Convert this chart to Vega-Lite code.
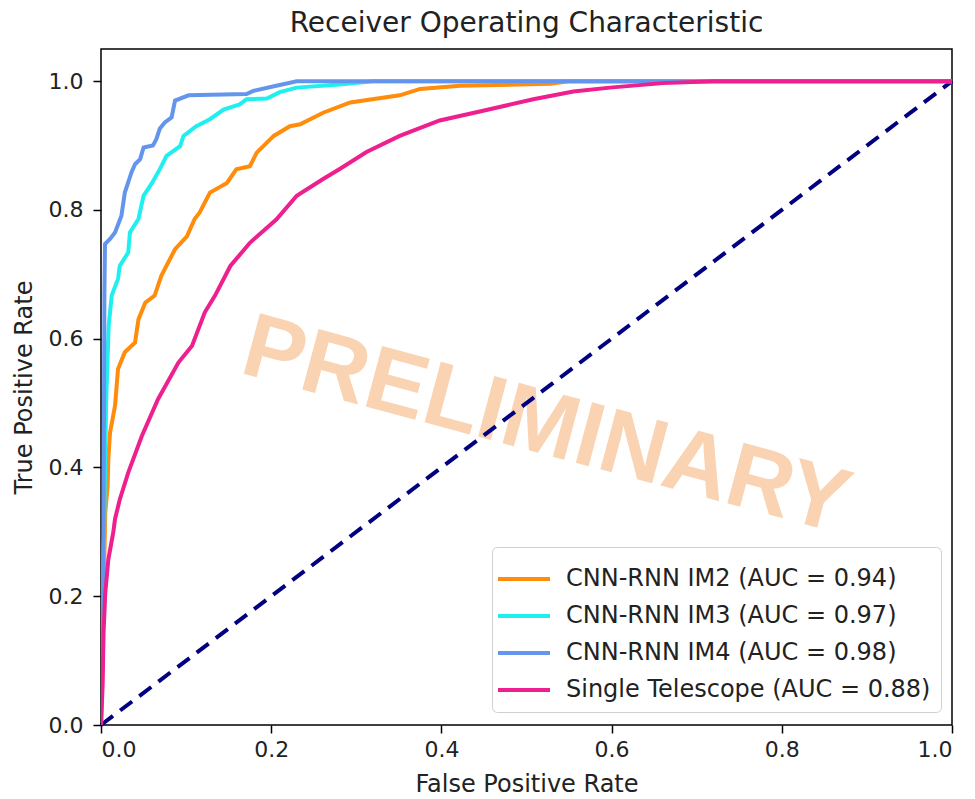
{
  "$schema": "https://vega.github.io/schema/vega-lite/v6.json",
  "autosize": {"type": "none"},
  "width": 851,
  "height": 676,
  "padding": {"left": 101, "top": 49, "right": 23, "bottom": 74},
  "background": "white",
  "config": {
    "font": "DejaVu Sans",
    "view": {"stroke": "black", "strokeWidth": 1.5},
    "axis": {
      "grid": false,
      "domain": false,
      "tickColor": "black",
      "tickWidth": 1.5,
      "tickSize": 8,
      "labelFontSize": 22,
      "labelColor": "#222222",
      "titleFontSize": 24,
      "titleFontWeight": "normal",
      "titleColor": "#222222",
      "labelFont": "DejaVu Sans",
      "titleFont": "DejaVu Sans"
    }
  },
  "title": {
    "text": "Receiver Operating Characteristic",
    "fontSize": 28,
    "fontWeight": "normal",
    "color": "#222222",
    "font": "DejaVu Sans",
    "offset": 11
  },
  "datasets": {
    "roc": [
      {"model": "CNN-RNN IM2 (AUC = 0.94)", "fpr": 0, "tpr": 0},
      {"model": "CNN-RNN IM2 (AUC = 0.94)", "fpr": 0.003, "tpr": 0.2},
      {"model": "CNN-RNN IM2 (AUC = 0.94)", "fpr": 0.005, "tpr": 0.33},
      {"model": "CNN-RNN IM2 (AUC = 0.94)", "fpr": 0.0078, "tpr": 0.371},
      {"model": "CNN-RNN IM2 (AUC = 0.94)", "fpr": 0.0086, "tpr": 0.413},
      {"model": "CNN-RNN IM2 (AUC = 0.94)", "fpr": 0.0106, "tpr": 0.454},
      {"model": "CNN-RNN IM2 (AUC = 0.94)", "fpr": 0.0165, "tpr": 0.496},
      {"model": "CNN-RNN IM2 (AUC = 0.94)", "fpr": 0.02, "tpr": 0.553},
      {"model": "CNN-RNN IM2 (AUC = 0.94)", "fpr": 0.028, "tpr": 0.579},
      {"model": "CNN-RNN IM2 (AUC = 0.94)", "fpr": 0.04, "tpr": 0.594},
      {"model": "CNN-RNN IM2 (AUC = 0.94)", "fpr": 0.044, "tpr": 0.63},
      {"model": "CNN-RNN IM2 (AUC = 0.94)", "fpr": 0.052, "tpr": 0.656},
      {"model": "CNN-RNN IM2 (AUC = 0.94)", "fpr": 0.063, "tpr": 0.667},
      {"model": "CNN-RNN IM2 (AUC = 0.94)", "fpr": 0.071, "tpr": 0.698},
      {"model": "CNN-RNN IM2 (AUC = 0.94)", "fpr": 0.087, "tpr": 0.739},
      {"model": "CNN-RNN IM2 (AUC = 0.94)", "fpr": 0.101, "tpr": 0.759},
      {"model": "CNN-RNN IM2 (AUC = 0.94)", "fpr": 0.11, "tpr": 0.786},
      {"model": "CNN-RNN IM2 (AUC = 0.94)", "fpr": 0.116, "tpr": 0.796},
      {"model": "CNN-RNN IM2 (AUC = 0.94)", "fpr": 0.128, "tpr": 0.827},
      {"model": "CNN-RNN IM2 (AUC = 0.94)", "fpr": 0.148, "tpr": 0.842},
      {"model": "CNN-RNN IM2 (AUC = 0.94)", "fpr": 0.159, "tpr": 0.863},
      {"model": "CNN-RNN IM2 (AUC = 0.94)", "fpr": 0.175, "tpr": 0.868},
      {"model": "CNN-RNN IM2 (AUC = 0.94)", "fpr": 0.183, "tpr": 0.889},
      {"model": "CNN-RNN IM2 (AUC = 0.94)", "fpr": 0.203, "tpr": 0.915},
      {"model": "CNN-RNN IM2 (AUC = 0.94)", "fpr": 0.222, "tpr": 0.93},
      {"model": "CNN-RNN IM2 (AUC = 0.94)", "fpr": 0.234, "tpr": 0.933},
      {"model": "CNN-RNN IM2 (AUC = 0.94)", "fpr": 0.261, "tpr": 0.951},
      {"model": "CNN-RNN IM2 (AUC = 0.94)", "fpr": 0.293, "tpr": 0.967},
      {"model": "CNN-RNN IM2 (AUC = 0.94)", "fpr": 0.351, "tpr": 0.978},
      {"model": "CNN-RNN IM2 (AUC = 0.94)", "fpr": 0.375, "tpr": 0.988},
      {"model": "CNN-RNN IM2 (AUC = 0.94)", "fpr": 0.422, "tpr": 0.993},
      {"model": "CNN-RNN IM2 (AUC = 0.94)", "fpr": 0.528, "tpr": 0.996},
      {"model": "CNN-RNN IM2 (AUC = 0.94)", "fpr": 0.55, "tpr": 1.0},
      {"model": "CNN-RNN IM2 (AUC = 0.94)", "fpr": 1.0, "tpr": 1.0},

      {"model": "CNN-RNN IM3 (AUC = 0.97)", "fpr": 0, "tpr": 0},
      {"model": "CNN-RNN IM3 (AUC = 0.97)", "fpr": 0.003, "tpr": 0.25},
      {"model": "CNN-RNN IM3 (AUC = 0.97)", "fpr": 0.006, "tpr": 0.5},
      {"model": "CNN-RNN IM3 (AUC = 0.97)", "fpr": 0.009, "tpr": 0.62},
      {"model": "CNN-RNN IM3 (AUC = 0.97)", "fpr": 0.0126, "tpr": 0.667},
      {"model": "CNN-RNN IM3 (AUC = 0.97)", "fpr": 0.02, "tpr": 0.693},
      {"model": "CNN-RNN IM3 (AUC = 0.97)", "fpr": 0.022, "tpr": 0.713},
      {"model": "CNN-RNN IM3 (AUC = 0.97)", "fpr": 0.032, "tpr": 0.734},
      {"model": "CNN-RNN IM3 (AUC = 0.97)", "fpr": 0.034, "tpr": 0.765},
      {"model": "CNN-RNN IM3 (AUC = 0.97)", "fpr": 0.044, "tpr": 0.786},
      {"model": "CNN-RNN IM3 (AUC = 0.97)", "fpr": 0.05, "tpr": 0.822},
      {"model": "CNN-RNN IM3 (AUC = 0.97)", "fpr": 0.06, "tpr": 0.842},
      {"model": "CNN-RNN IM3 (AUC = 0.97)", "fpr": 0.069, "tpr": 0.863},
      {"model": "CNN-RNN IM3 (AUC = 0.97)", "fpr": 0.077, "tpr": 0.884},
      {"model": "CNN-RNN IM3 (AUC = 0.97)", "fpr": 0.093, "tpr": 0.899},
      {"model": "CNN-RNN IM3 (AUC = 0.97)", "fpr": 0.097, "tpr": 0.915},
      {"model": "CNN-RNN IM3 (AUC = 0.97)", "fpr": 0.112, "tpr": 0.93},
      {"model": "CNN-RNN IM3 (AUC = 0.97)", "fpr": 0.128, "tpr": 0.941},
      {"model": "CNN-RNN IM3 (AUC = 0.97)", "fpr": 0.144, "tpr": 0.956},
      {"model": "CNN-RNN IM3 (AUC = 0.97)", "fpr": 0.163, "tpr": 0.964},
      {"model": "CNN-RNN IM3 (AUC = 0.97)", "fpr": 0.171, "tpr": 0.972},
      {"model": "CNN-RNN IM3 (AUC = 0.97)", "fpr": 0.195, "tpr": 0.973},
      {"model": "CNN-RNN IM3 (AUC = 0.97)", "fpr": 0.21, "tpr": 0.983},
      {"model": "CNN-RNN IM3 (AUC = 0.97)", "fpr": 0.23, "tpr": 0.99},
      {"model": "CNN-RNN IM3 (AUC = 0.97)", "fpr": 0.28, "tpr": 0.995},
      {"model": "CNN-RNN IM3 (AUC = 0.97)", "fpr": 0.32, "tpr": 1.0},
      {"model": "CNN-RNN IM3 (AUC = 0.97)", "fpr": 1.0, "tpr": 1.0},

      {"model": "CNN-RNN IM4 (AUC = 0.98)", "fpr": 0, "tpr": 0},
      {"model": "CNN-RNN IM4 (AUC = 0.98)", "fpr": 0.003, "tpr": 0.3},
      {"model": "CNN-RNN IM4 (AUC = 0.98)", "fpr": 0.004, "tpr": 0.67},
      {"model": "CNN-RNN IM4 (AUC = 0.98)", "fpr": 0.0047, "tpr": 0.747},
      {"model": "CNN-RNN IM4 (AUC = 0.98)", "fpr": 0.0106, "tpr": 0.755},
      {"model": "CNN-RNN IM4 (AUC = 0.98)", "fpr": 0.0165, "tpr": 0.765},
      {"model": "CNN-RNN IM4 (AUC = 0.98)", "fpr": 0.024, "tpr": 0.791},
      {"model": "CNN-RNN IM4 (AUC = 0.98)", "fpr": 0.028, "tpr": 0.827},
      {"model": "CNN-RNN IM4 (AUC = 0.98)", "fpr": 0.036, "tpr": 0.859},
      {"model": "CNN-RNN IM4 (AUC = 0.98)", "fpr": 0.04, "tpr": 0.871},
      {"model": "CNN-RNN IM4 (AUC = 0.98)", "fpr": 0.046, "tpr": 0.879},
      {"model": "CNN-RNN IM4 (AUC = 0.98)", "fpr": 0.05, "tpr": 0.897},
      {"model": "CNN-RNN IM4 (AUC = 0.98)", "fpr": 0.061, "tpr": 0.9},
      {"model": "CNN-RNN IM4 (AUC = 0.98)", "fpr": 0.065, "tpr": 0.91},
      {"model": "CNN-RNN IM4 (AUC = 0.98)", "fpr": 0.069, "tpr": 0.926},
      {"model": "CNN-RNN IM4 (AUC = 0.98)", "fpr": 0.075, "tpr": 0.936},
      {"model": "CNN-RNN IM4 (AUC = 0.98)", "fpr": 0.083, "tpr": 0.944},
      {"model": "CNN-RNN IM4 (AUC = 0.98)", "fpr": 0.087, "tpr": 0.97},
      {"model": "CNN-RNN IM4 (AUC = 0.98)", "fpr": 0.103, "tpr": 0.978},
      {"model": "CNN-RNN IM4 (AUC = 0.98)", "fpr": 0.171, "tpr": 0.98},
      {"model": "CNN-RNN IM4 (AUC = 0.98)", "fpr": 0.179, "tpr": 0.985},
      {"model": "CNN-RNN IM4 (AUC = 0.98)", "fpr": 0.206, "tpr": 0.993},
      {"model": "CNN-RNN IM4 (AUC = 0.98)", "fpr": 0.23, "tpr": 1.0},
      {"model": "CNN-RNN IM4 (AUC = 0.98)", "fpr": 1.0, "tpr": 1.0},

      {"model": "Single Telescope (AUC = 0.88)", "fpr": 0, "tpr": 0},
      {"model": "Single Telescope (AUC = 0.88)", "fpr": 0.002, "tpr": 0.065},
      {"model": "Single Telescope (AUC = 0.88)", "fpr": 0.003, "tpr": 0.143},
      {"model": "Single Telescope (AUC = 0.88)", "fpr": 0.005, "tpr": 0.205},
      {"model": "Single Telescope (AUC = 0.88)", "fpr": 0.0086, "tpr": 0.257},
      {"model": "Single Telescope (AUC = 0.88)", "fpr": 0.0145, "tpr": 0.3},
      {"model": "Single Telescope (AUC = 0.88)", "fpr": 0.0165, "tpr": 0.32},
      {"model": "Single Telescope (AUC = 0.88)", "fpr": 0.022, "tpr": 0.35},
      {"model": "Single Telescope (AUC = 0.88)", "fpr": 0.032, "tpr": 0.392},
      {"model": "Single Telescope (AUC = 0.88)", "fpr": 0.048, "tpr": 0.449},
      {"model": "Single Telescope (AUC = 0.88)", "fpr": 0.067, "tpr": 0.506},
      {"model": "Single Telescope (AUC = 0.88)", "fpr": 0.091, "tpr": 0.563},
      {"model": "Single Telescope (AUC = 0.88)", "fpr": 0.107, "tpr": 0.589},
      {"model": "Single Telescope (AUC = 0.88)", "fpr": 0.122, "tpr": 0.641},
      {"model": "Single Telescope (AUC = 0.88)", "fpr": 0.134, "tpr": 0.667},
      {"model": "Single Telescope (AUC = 0.88)", "fpr": 0.152, "tpr": 0.713},
      {"model": "Single Telescope (AUC = 0.88)", "fpr": 0.175, "tpr": 0.749},
      {"model": "Single Telescope (AUC = 0.88)", "fpr": 0.206, "tpr": 0.785},
      {"model": "Single Telescope (AUC = 0.88)", "fpr": 0.23, "tpr": 0.822},
      {"model": "Single Telescope (AUC = 0.88)", "fpr": 0.261, "tpr": 0.848},
      {"model": "Single Telescope (AUC = 0.88)", "fpr": 0.281, "tpr": 0.864},
      {"model": "Single Telescope (AUC = 0.88)", "fpr": 0.312, "tpr": 0.89},
      {"model": "Single Telescope (AUC = 0.88)", "fpr": 0.351, "tpr": 0.915},
      {"model": "Single Telescope (AUC = 0.88)", "fpr": 0.398, "tpr": 0.939},
      {"model": "Single Telescope (AUC = 0.88)", "fpr": 0.449, "tpr": 0.954},
      {"model": "Single Telescope (AUC = 0.88)", "fpr": 0.508, "tpr": 0.972},
      {"model": "Single Telescope (AUC = 0.88)", "fpr": 0.555, "tpr": 0.984},
      {"model": "Single Telescope (AUC = 0.88)", "fpr": 0.598, "tpr": 0.99},
      {"model": "Single Telescope (AUC = 0.88)", "fpr": 0.66, "tpr": 0.997},
      {"model": "Single Telescope (AUC = 0.88)", "fpr": 0.72, "tpr": 1.0},
      {"model": "Single Telescope (AUC = 0.88)", "fpr": 1.0, "tpr": 1.0}
    ],
    "diag": [
      {"fpr": 0, "tpr": 0},
      {"fpr": 1, "tpr": 1}
    ],
    "mark": [
      {"label": "PRELIMINARY", "fpr": 0.523, "tpr": 0.463}
    ]
  },
  "layer": [
    {
      "data": {"name": "mark"},
      "mark": {"type": "text", "font": "Liberation Sans", "fontWeight": "bold", "fontSize": 91, "angle": 15, "color": "#F9D3B2", "align": "center", "baseline": "middle"},
      "encoding": {
        "x": {"field": "fpr", "type": "quantitative", "scale": {"domain": [0, 1]}},
        "y": {"field": "tpr", "type": "quantitative", "scale": {"domain": [0, 1.05]}},
        "text": {"field": "label"}
      }
    },
    {
      "data": {"name": "diag"},
      "mark": {"type": "line", "color": "#000080", "strokeWidth": 4, "strokeDash": [15, 9]},
      "encoding": {
        "x": {"field": "fpr", "type": "quantitative"},
        "y": {"field": "tpr", "type": "quantitative"}
      }
    },
    {
      "data": {"name": "roc"},
      "mark": {"type": "line", "strokeWidth": 4, "clip": true},
      "encoding": {
        "x": {
          "field": "fpr", "type": "quantitative",
          "scale": {"domain": [0, 1], "nice": false, "zero": true},
          "axis": {"title": "False Positive Rate", "values": [0, 0.2, 0.4, 0.6, 0.8, 1.0], "format": ".1f", "labelPadding": 6, "titlePadding": 12}
        },
        "y": {
          "field": "tpr", "type": "quantitative",
          "scale": {"domain": [0, 1.05], "nice": false},
          "axis": {"title": "True Positive Rate", "values": [0, 0.2, 0.4, 0.6, 0.8, 1.0], "format": ".1f", "labelPadding": 10, "titlePadding": 12}
        },
        "color": {
          "field": "model", "type": "nominal",
          "scale": {
            "domain": ["CNN-RNN IM2 (AUC = 0.94)", "CNN-RNN IM3 (AUC = 0.97)", "CNN-RNN IM4 (AUC = 0.98)", "Single Telescope (AUC = 0.88)"],
            "range": ["#FF8C0A", "#1FEFEF", "#6495ED", "#EE1F8E"]
          },
          "legend": {
            "title": null,
            "orient": "none",
            "legendX": 391,
            "legendY": 498,
            "symbolType": "M-1.3,0H1.3",
            "symbolStrokeWidth": 4,
            "symbolSize": 1600,
            "labelFontSize": 24,
            "labelLimit": 0,
            "labelColor": "#222222",
            "labelFont": "DejaVu Sans",
            "labelOffset": 20,
            "rowPadding": 3,
            "padding": 10,
            "fillColor": "white",
            "strokeColor": "#d0d0d0",
            "cornerRadius": 5
          }
        },
        "order": {"field": "fpr", "type": "quantitative"}
      }
    }
  ]
}
